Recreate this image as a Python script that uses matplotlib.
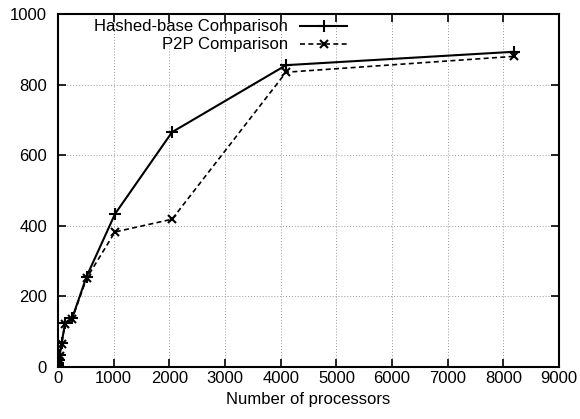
import matplotlib
matplotlib.use('Agg')
from matplotlib import pyplot as plt

plt.rcParams['font.family'] = ['Liberation Sans', 'DejaVu Sans']

# number of processors
procs = [1, 2, 4, 8, 16, 32, 64, 128, 256, 512, 1024, 2048, 4096, 8192]
hashed = [1, 2, 5, 10, 18, 33, 66, 124, 138, 255, 433, 665, 855, 893]
p2p = [1, 2, 4, 9, 17, 30, 64, 122, 136, 250, 382, 418, 835, 880]

fig = plt.figure(figsize=(5.8, 4.19), dpi=100)
ax = fig.add_axes([0.1, 0.125, 0.864, 0.8415])

ax.plot(procs, hashed, color='black', lw=1.5, marker='+', ms=8, mew=1.5)
ax.plot(procs, p2p, color='black', lw=1.2, ls=(0, (3, 2)), marker='x', ms=6, mew=1.5)

ax.set_xlim(0, 9000)
ax.set_ylim(0, 1000)
ax.set_xticks(range(0, 9001, 1000))
ax.set_yticks(range(0, 1001, 200))
ax.grid(True, color='#999999', ls=(0, (1, 2)), lw=0.7)
ax.tick_params(direction='in', length=6, width=1.2, top=True, right=True, labelsize=12)
ax.tick_params(axis='y', pad=8)
for s in ax.spines.values():
    s.set_linewidth(1.5)
ax.set_xlabel('Number of processors', fontsize=12)

# gnuplot-style legend: right-aligned text, sample line after it
ax.text(0.459, 0.966, 'Hashed-base Comparison', transform=ax.transAxes, ha='right', va='center', fontsize=12)
ax.plot([0.482, 0.577], [0.966, 0.966], transform=ax.transAxes, color='black', lw=1.5)
ax.plot([0.53], [0.966], transform=ax.transAxes, color='black', marker='+', ms=8, mew=1.5)
ax.text(0.459, 0.915, 'P2P Comparison', transform=ax.transAxes, ha='right', va='center', fontsize=12)
ax.plot([0.482, 0.577], [0.915, 0.915], transform=ax.transAxes, color='black', lw=1.2, ls=(0, (3, 2)))
ax.plot([0.53], [0.915], transform=ax.transAxes, color='black', marker='x', ms=6, mew=1.5)

fig.savefig('out.png', dpi=100)
